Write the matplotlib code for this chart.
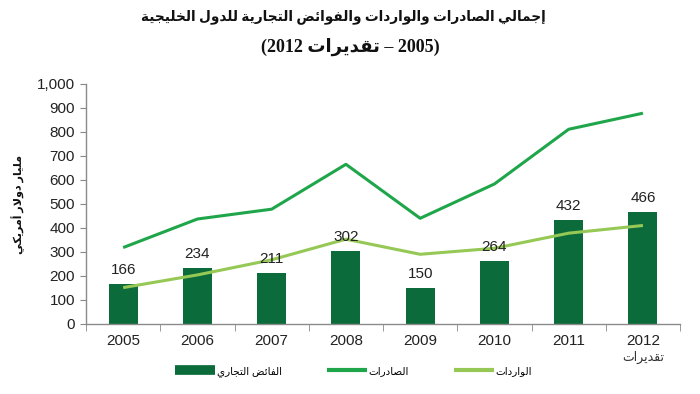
import matplotlib
matplotlib.use("Agg")
import matplotlib.pyplot as plt
from matplotlib.lines import Line2D

# ---------------- data ----------------
years = ["2005", "2006", "2007", "2008", "2009", "2010", "2011", "2012"]
surplus = [166, 234, 211, 302, 150, 264, 432, 466]
exports = [318, 437, 478, 665, 440, 583, 811, 878]
imports = [151, 204, 267, 353, 290, 315, 378, 410]
yticks = [0, 100, 200, 300, 400, 500, 600, 700, 800, 900, 1000]

title1 = "إجمالي الصادرات والواردات والفوائض التجارية للدول الخليجية"
title2_word = "تقديرات"
ylabel = "مليار دولار أمريكي"
leg_surplus = "الفائض التجاري"
leg_exports = "الصادرات"
leg_imports = "الواردات"
est_label = "تقديرات"

# ---------------- simple Arabic shaping (logical -> visual) ----------------
FORMS = {
    '\u0621': ('\uFE80', None, None, None),
    '\u0622': ('\uFE81', '\uFE82', None, None),
    '\u0623': ('\uFE83', '\uFE84', None, None),
    '\u0624': ('\uFE85', '\uFE86', None, None),
    '\u0625': ('\uFE87', '\uFE88', None, None),
    '\u0626': ('\uFE89', '\uFE8A', '\uFE8B', '\uFE8C'),
    '\u0627': ('\uFE8D', '\uFE8E', None, None),
    '\u0628': ('\uFE8F', '\uFE90', '\uFE91', '\uFE92'),
    '\u0629': ('\uFE93', '\uFE94', None, None),
    '\u062A': ('\uFE95', '\uFE96', '\uFE97', '\uFE98'),
    '\u062B': ('\uFE99', '\uFE9A', '\uFE9B', '\uFE9C'),
    '\u062C': ('\uFE9D', '\uFE9E', '\uFE9F', '\uFEA0'),
    '\u062D': ('\uFEA1', '\uFEA2', '\uFEA3', '\uFEA4'),
    '\u062E': ('\uFEA5', '\uFEA6', '\uFEA7', '\uFEA8'),
    '\u062F': ('\uFEA9', '\uFEAA', None, None),
    '\u0630': ('\uFEAB', '\uFEAC', None, None),
    '\u0631': ('\uFEAD', '\uFEAE', None, None),
    '\u0632': ('\uFEAF', '\uFEB0', None, None),
    '\u0633': ('\uFEB1', '\uFEB2', '\uFEB3', '\uFEB4'),
    '\u0634': ('\uFEB5', '\uFEB6', '\uFEB7', '\uFEB8'),
    '\u0635': ('\uFEB9', '\uFEBA', '\uFEBB', '\uFEBC'),
    '\u0636': ('\uFEBD', '\uFEBE', '\uFEBF', '\uFEC0'),
    '\u0637': ('\uFEC1', '\uFEC2', '\uFEC3', '\uFEC4'),
    '\u0638': ('\uFEC5', '\uFEC6', '\uFEC7', '\uFEC8'),
    '\u0639': ('\uFEC9', '\uFECA', '\uFECB', '\uFECC'),
    '\u063A': ('\uFECD', '\uFECE', '\uFECF', '\uFED0'),
    '\u0641': ('\uFED1', '\uFED2', '\uFED3', '\uFED4'),
    '\u0642': ('\uFED5', '\uFED6', '\uFED7', '\uFED8'),
    '\u0643': ('\uFED9', '\uFEDA', '\uFEDB', '\uFEDC'),
    '\u0644': ('\uFEDD', '\uFEDE', '\uFEDF', '\uFEE0'),
    '\u0645': ('\uFEE1', '\uFEE2', '\uFEE3', '\uFEE4'),
    '\u0646': ('\uFEE5', '\uFEE6', '\uFEE7', '\uFEE8'),
    '\u0647': ('\uFEE9', '\uFEEA', '\uFEEB', '\uFEEC'),
    '\u0648': ('\uFEED', '\uFEEE', None, None),
    '\u0649': ('\uFEEF', '\uFEF0', None, None),
    '\u064A': ('\uFEF1', '\uFEF2', '\uFEF3', '\uFEF4'),
}
LAMALEF = {'\u0622': ('\uFEF5', '\uFEF6'), '\u0623': ('\uFEF7', '\uFEF8'),
           '\u0625': ('\uFEF9', '\uFEFA'), '\u0627': ('\uFEFB', '\uFEFC')}


def dual(c):
    return c in FORMS and FORMS[c][2] is not None


def joins(c):
    return c in FORMS and FORMS[c][1] is not None


def shape(text):
    chars = list(text)
    out = []
    i = 0
    n = len(chars)
    while i < n:
        c = chars[i]
        prev = chars[i - 1] if i > 0 else None
        if c == '\u0644' and i + 1 < n and chars[i + 1] in LAMALEF:
            iso, fin = LAMALEF[chars[i + 1]]
            out.append(fin if (prev is not None and dual(prev)) else iso)
            i += 2
            continue
        if c not in FORMS:
            out.append(c)
            i += 1
            continue
        nxt = chars[i + 1] if i + 1 < n else None
        jp = prev is not None and dual(prev) and joins(c)
        jn = dual(c) and nxt is not None and joins(nxt)
        f = FORMS[c]
        if jp and jn:
            out.append(f[3])
        elif jp:
            out.append(f[1])
        elif jn:
            out.append(f[2])
        else:
            out.append(f[0])
        i += 1
    return ''.join(reversed(out))


# ---------------- style ----------------
C_BAR = "#0b6b3a"
C_EXP = "#1fa64a"
C_IMP = "#95c855"
AR_SANS = ['Liberation Sans', 'DejaVu Sans']
AR_SERIF = ['Liberation Serif', 'DejaVu Sans']
plt.rcParams['font.family'] = AR_SANS

fig = plt.figure(figsize=(7.0, 3.94), dpi=100)
ax = fig.add_axes([0.1229, 0.178, 0.8486, 0.609])

x = list(range(len(years)))
ax.bar(x, surplus, width=0.39, color=C_BAR, zorder=2)
ax.plot(x, exports, color=C_EXP, lw=2.2, zorder=3, solid_capstyle='butt')
ax.plot(x, imports, color=C_IMP, lw=2.2, zorder=3, solid_capstyle='butt')

for xi, v in zip(x, surplus):
    ax.annotate(str(v), (xi, v), xytext=(0, 5), textcoords='offset points',
                ha='center', va='bottom', fontsize=11, color='#222222', zorder=4)

ax.set_xlim(-0.5, len(years) - 0.5)
ax.set_ylim(0, 1000)
ax.set_yticks(yticks)
ax.set_yticklabels([f"{t:,}" for t in yticks], fontsize=11, color='#222222')
ax.set_xticks(x)
ax.set_xticklabels(years, fontsize=11, color='#222222')
ax.set_xticks([i - 0.5 for i in range(len(years) + 1)], minor=True)
ax.tick_params(axis='x', which='major', length=0, pad=7)
ax.tick_params(axis='x', which='minor', length=5, color='#888888', direction='out')
ax.tick_params(axis='y', length=4, color='#888888', direction='out', pad=4)

for s in ['top', 'right']:
    ax.spines[s].set_visible(False)
for s in ['left', 'bottom']:
    ax.spines[s].set_color('#8a8a8a')
    ax.spines[s].set_linewidth(1.0)

ax.annotate(shape(est_label), (len(years) - 1, 0), xycoords=('data', 'axes fraction'),
            xytext=(0, -24), textcoords='offset points', ha='center', va='center',
            fontsize=9, color='#333333', family=AR_SANS)

# y label
fig.text(0.026, 0.48, shape(ylabel), rotation=90, ha='center', va='center',
         fontsize=8, fontweight='bold', family=AR_SERIF, color='#111111')

# title
fig.text(0.49, 0.957, shape(title1), ha='center', va='center', fontsize=9.8,
         fontweight='bold', family=AR_SERIF, color='#111111')
fig.text(0.5, 0.88, "(2012 " + shape(title2_word) + " – 2005)", ha='center', va='center',
         fontsize=13, fontweight='bold', family=AR_SERIF, color='#111111')

handles = [Line2D([], [], color=C_BAR, lw=7, solid_capstyle='butt'),
           Line2D([], [], color=C_EXP, lw=3, solid_capstyle='butt'),
           Line2D([], [], color=C_IMP, lw=3, solid_capstyle='butt')]
labels = [shape(leg_surplus), shape(leg_exports), shape(leg_imports)]
fig.legend(handles, labels, loc='center', bbox_to_anchor=(0.505, 0.058), ncol=3,
           frameon=False, handlelength=3.85, handletextpad=0.15,
           columnspacing=4.3, prop={'family': AR_SANS, 'size': 7.5})

fig.savefig("out.png", dpi=100)
